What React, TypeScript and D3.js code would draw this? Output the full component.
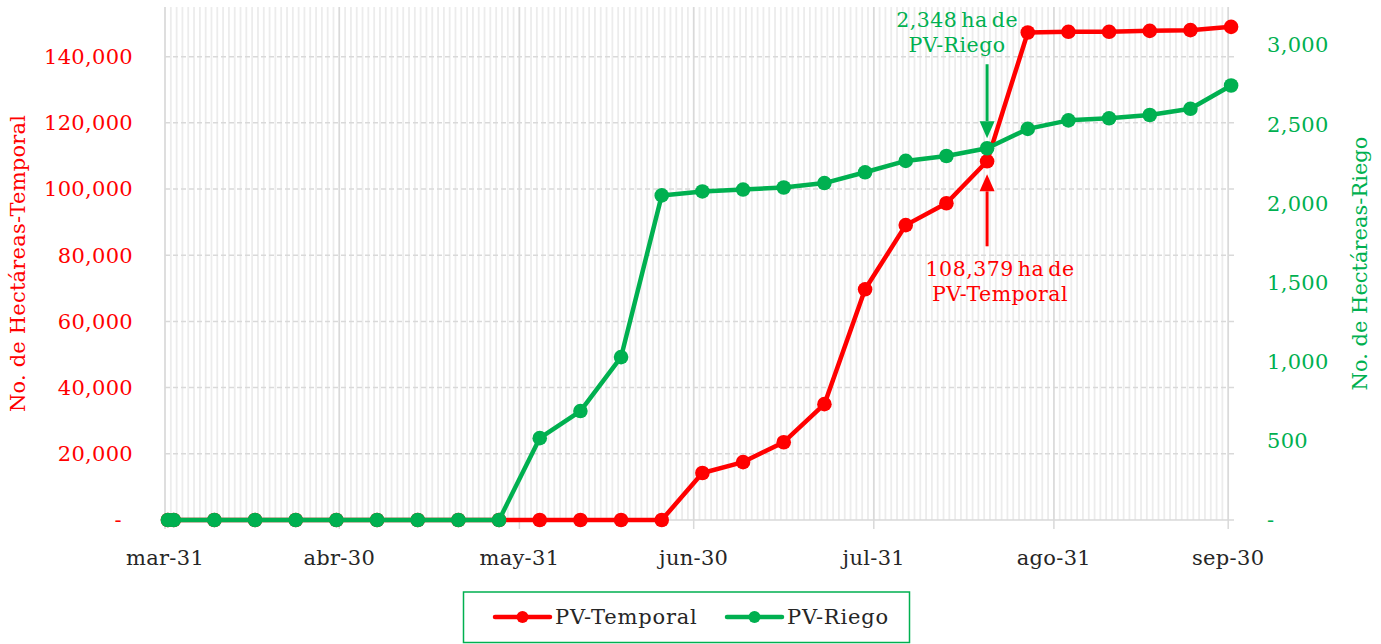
import React, { useEffect, useRef } from 'react';
import * as d3 from 'd3';

// weekly dates (UTC) — first two points are mar-31 and apr-1
const fechas = [
  '2024-03-31', '2024-04-01', '2024-04-08', '2024-04-15', '2024-04-22', '2024-04-29',
  '2024-05-06', '2024-05-13', '2024-05-20', '2024-05-27', '2024-06-03', '2024-06-10',
  '2024-06-17', '2024-06-24', '2024-07-01', '2024-07-08', '2024-07-15', '2024-07-22',
  '2024-07-29', '2024-08-05', '2024-08-12', '2024-08-19', '2024-08-26', '2024-09-02',
  '2024-09-09', '2024-09-16', '2024-09-23', '2024-09-30',
];
const temporal = [
  0, 0, 0, 0, 0, 0, 0, 0, 0, 0, 0, 0, 0, 0,
  14200, 17500, 23500, 35000, 69700, 89100, 95700, 108379,
  147300, 147500, 147500, 147800, 148000, 149000,
];
const riego = [
  0, 0, 0, 0, 0, 0, 0, 0, 0, 0,
  517, 688, 1029, 2050, 2075, 2087, 2100, 2128, 2196, 2268, 2299, 2348,
  2470, 2524, 2537, 2558, 2597, 2744,
];
const xTicks = ['2024-03-31', '2024-04-30', '2024-05-31', '2024-06-30', '2024-07-31', '2024-08-31', '2024-09-30'];
const xTickLabels = ['mar-31', 'abr-30', 'may-31', 'jun-30', 'jul-31', 'ago-31', 'sep-30'];
const leftTicks = [0, 20000, 40000, 60000, 80000, 100000, 120000, 140000];
const rightTicks = [0, 500, 1000, 1500, 2000, 2500, 3000];
const annotIndex = 21; // aug-19

const RED = '#ff0000';
const GREEN = '#00b050';
const FONT = '"DejaVu Serif", serif';

const parse = (s: string) => {
  const [y, m, d] = s.split('-').map(Number);
  return new Date(Date.UTC(y, m - 1, d));
};

export default function App() {
  const svgRef = useRef<SVGSVGElement>(null);

  useEffect(() => {
    if (!svgRef.current) return;
    const W = 1381, H = 644;
    const left = 165, right = 1234, top = 7, bottom = 520;

    const svg = d3.select(svgRef.current);
    svg.selectAll('*').remove();
    svg.attr('width', W).attr('height', H);

    const start = parse('2024-03-31');
    const end = parse('2024-10-01');
    const x = d3.scaleUtc().domain([start, end]).range([left, right]);
    const yL = d3.scaleLinear().domain([0, 155000]).range([bottom, top]);
    const yR = d3.scaleLinear().domain([0, 3240]).range([bottom, top]);
    const half = 12 * 3600 * 1000;
    const px = (s: string) => x(new Date(parse(s).getTime() + half));

    const fmt = d3.format(',');

    // minor daily gridlines
    const days = d3.utcDay.range(start, end);
    svg.append('g').selectAll('line').data(days).join('line')
      .attr('x1', d => x(d)).attr('x2', d => x(d))
      .attr('y1', top).attr('y2', bottom)
      .attr('stroke', '#ececec').attr('stroke-width', 1.8);

    // horizontal dashed gridlines (left axis)
    svg.append('g').selectAll('line').data(leftTicks.filter(v => v > 0)).join('line')
      .attr('x1', left).attr('x2', right)
      .attr('y1', d => yL(d)).attr('y2', d => yL(d))
      .attr('stroke', '#d9d9d9').attr('stroke-width', 1.5).attr('stroke-dasharray', '5 3');

    // month gridlines + ticks
    svg.append('g').selectAll('line').data(xTicks).join('line')
      .attr('x1', d => x(parse(d))).attr('x2', d => x(parse(d)))
      .attr('y1', top).attr('y2', bottom + 9)
      .attr('stroke', '#d9d9d9').attr('stroke-width', 1.5);

    // x axis line
    svg.append('line')
      .attr('x1', left).attr('x2', right).attr('y1', bottom).attr('y2', bottom)
      .attr('stroke', '#d9d9d9').attr('stroke-width', 1.5);

    const tickText = (sel: d3.Selection<any, any, any, any>) =>
      sel.attr('font-family', FONT).attr('font-size', 21).attr('letter-spacing', 0.3);

    // x labels
    svg.append('g').selectAll('text').data(xTicks).join('text')
      .attr('x', d => x(parse(d))).attr('y', 565)
      .attr('text-anchor', 'middle').attr('fill', '#262626')
      .call(tickText)
      .text((d, i) => xTickLabels[i]);

    // left labels
    svg.append('g').selectAll('text').data(leftTicks).join('text')
      .attr('x', d => (d === 0 ? 122 : 133)).attr('y', d => yL(d)).attr('dy', '0.35em')
      .attr('text-anchor', 'end').attr('fill', RED)
      .call(tickText)
      .text(d => (d === 0 ? '-' : fmt(d)));

    // right labels
    svg.append('g').selectAll('text').data(rightTicks).join('text')
      .attr('x', 1267).attr('y', d => yR(d)).attr('dy', '0.35em')
      .attr('text-anchor', 'start').attr('fill', GREEN)
      .call(tickText)
      .text(d => (d === 0 ? '-' : fmt(d)));

    // axis titles
    svg.append('text')
      .attr('transform', `translate(25,${(top + bottom) / 2}) rotate(-90)`)
      .attr('text-anchor', 'middle').attr('font-family', FONT).attr('font-size', 21)
      .attr('letter-spacing', 0.2)
      .attr('fill', RED).text('No. de Hectáreas-Temporal');
    svg.append('text')
      .attr('transform', `translate(1367,${(top + bottom) / 2}) rotate(-90)`)
      .attr('text-anchor', 'middle').attr('font-family', FONT).attr('font-size', 21)
      .attr('fill', GREEN).text('No. de Hectáreas-Riego');

    // series
    const series = [
      { values: temporal, y: yL, color: RED },
      { values: riego, y: yR, color: GREEN },
    ];
    series.forEach(s => {
      const line = d3.line<number>()
        .x((d, i) => px(fechas[i]))
        .y(d => s.y(d));
      svg.append('path').datum(s.values)
        .attr('fill', 'none').attr('stroke', s.color).attr('stroke-width', 4.5)
        .attr('stroke-linejoin', 'round')
        .attr('d', line);
      svg.append('g').selectAll('circle').data(s.values).join('circle')
        .attr('cx', (d, i) => px(fechas[i])).attr('cy', d => s.y(d))
        .attr('r', 7.3).attr('fill', s.color);
    });

    // annotations
    const ax = px(fechas[annotIndex]);
    const gy = yR(riego[annotIndex]);
    const ry = yL(temporal[annotIndex]);

    const arrow = (x0: number, yTail: number, yTip: number, color: string) => {
      const dir = yTip > yTail ? 1 : -1;
      const headLen = 17, headW = 7.5;
      svg.append('line')
        .attr('x1', x0).attr('x2', x0)
        .attr('y1', yTail).attr('y2', yTip - dir * headLen)
        .attr('stroke', color).attr('stroke-width', 3);
      svg.append('path')
        .attr('d', `M${x0},${yTip} L${x0 - headW},${yTip - dir * headLen} L${x0 + headW},${yTip - dir * headLen} Z`)
        .attr('fill', color);
    };
    arrow(ax, gy - 84, gy - 10, GREEN);
    arrow(ax, ry + 85, ry + 13, RED);

    const annText = (color: string) => svg.append('text').attr('text-anchor', 'middle')
      .attr('font-family', FONT).attr('font-size', 20.5).attr('letter-spacing', 0.5)
      .attr('word-spacing', -3).attr('fill', color);

    const gText = annText(GREEN);
    gText.append('tspan').attr('x', ax - 30).attr('y', gy - 121).text(`${fmt(riego[annotIndex])} ha de`);
    gText.append('tspan').attr('x', ax - 30).attr('y', gy - 96).text('PV-Riego');

    const rText = annText(RED);
    rText.append('tspan').attr('x', ax + 13).attr('y', ry + 115).text(`${fmt(temporal[annotIndex])} ha de`);
    rText.append('tspan').attr('x', ax + 13).attr('y', ry + 140).text('PV-Temporal');

    // legend
    const lg = svg.append('g');
    lg.append('rect')
      .attr('x', 463.5).attr('y', 592).attr('width', 446).attr('height', 50.5)
      .attr('fill', 'white').attr('stroke', GREEN).attr('stroke-width', 1.5);
    const items = [
      { label: 'PV-Temporal', color: RED, x0: 495 },
      { label: 'PV-Riego', color: GREEN, x0: 727 },
    ];
    items.forEach(it => {
      lg.append('line')
        .attr('x1', it.x0).attr('x2', it.x0 + 55).attr('y1', 617).attr('y2', 617)
        .attr('stroke', it.color).attr('stroke-width', 4.5).attr('stroke-linecap', 'round');
      lg.append('circle').attr('cx', it.x0 + 27.5).attr('cy', 617).attr('r', 6).attr('fill', it.color);
      lg.append('text')
        .attr('x', it.x0 + 60).attr('y', 624)
        .attr('font-family', FONT).attr('font-size', 21).attr('letter-spacing', 0.8)
        .attr('fill', '#262626')
        .text(it.label);
    });
  }, []);

  return (
    <div style={{ position: 'absolute', left: 0, top: 0, background: 'white' }}>
      <svg ref={svgRef} width={1381} height={644} style={{ display: 'block' }} />
    </div>
  );
}
